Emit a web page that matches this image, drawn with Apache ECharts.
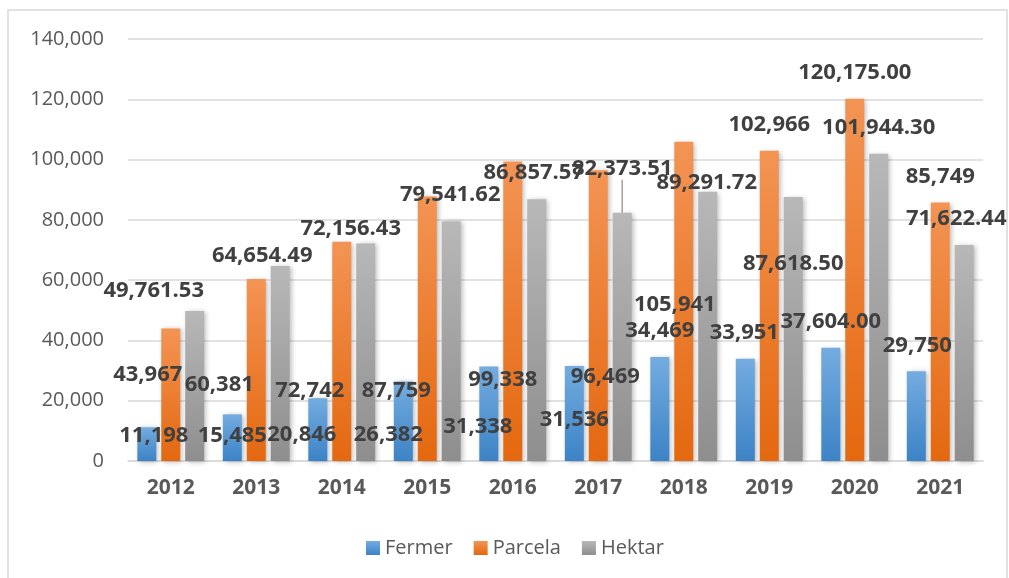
<!DOCTYPE html>
<html>
<head>
<meta charset="utf-8">
<script src="https://cdn.jsdelivr.net/npm/echarts@6/dist/echarts.min.js"></script>
<style>
  html, body { margin: 0; padding: 0; background: #ffffff; overflow: hidden; }
  #chart { width: 1009px; height: 578px; }
</style>
</head>
<body>
<div id="chart"></div>
<script>
// Years on the category axis
const years = ['2012', '2013', '2014', '2015', '2016', '2017', '2018', '2019', '2020', '2021'];

// Series values
const fermer  = [11198, 15485, 20846, 26382, 31338, 31536, 34469, 33951, 37604, 29750];
const parcela = [43967, 60381, 72742, 87759, 99338, 96469, 105941, 102966, 120175, 85749];
const hektar  = [49761.53, 64654.49, 72156.43, 79541.62, 86857.57, 82373.51, 89291.72, 87618.50, 101944.30, 71622.44];

// Decimal places shown in each value label
const fermerDecimals  = [0, 0, 0, 0, 0, 0, 0, 0, 2, 0];
const parcelaDecimals = [0, 0, 0, 0, 0, 0, 0, 0, 2, 0];
const hektarDecimals  = [2, 2, 2, 2, 2, 2, 2, 2, 2, 2];

// Y axis ticks
const yMin = 0, yMax = 140000, yStep = 20000;

// Hand-placed value labels: shift [dx, dy] in px from the top centre of each bar
const fermerShift  = [[7, 8], [0, 21], [-16, 37], [-15, 53], [-11, 60], [0, 54], [0, -26], [-1, -26], [0, -26], [1, -26]];
const parcelaShift = [[-23, 46], [-37, 106], [-32, 149], [-31, 194], [-10, 218], [7, 207], [-9, 163], [0, -26], [0, -26], [0, -26]];
const hektarShift  = [[-41, -20], [-18, -10], [-15, -15], [-1, -27], [-3, -26], [0, -44], [-1, -9], [0, 67], [0, -26], [-8, -26]];

// Label of this Hektar bar is joined to its bar by a guide line
const hektarGuideIndex = 5;

const FONT = '"Open Sans", "Liberation Sans", Arial, sans-serif';

function fmt(v, d) {
  return v.toLocaleString('en-US', { minimumFractionDigits: d, maximumFractionDigits: d });
}

function grad(top, bottom) {
  return new echarts.graphic.LinearGradient(0, 0, 0, 1, [
    { offset: 0, color: top },
    { offset: 1, color: bottom }
  ]);
}

const shifts = [fermerShift, parcelaShift, hektarShift];

function makeSeries(name, values, decimals, top, bottom, guideIndex) {
  return {
    name: name,
    type: 'bar',
    barWidth: 19,
    barGap: '26%',
    data: values.map((v, i) => i === guideIndex
      ? { value: v, labelLine: { show: true, lineStyle: { color: '#8c8c8c', width: 1.2 } } }
      : v),
    itemStyle: {
      color: grad(top, bottom),
      shadowColor: 'rgba(0,0,0,0.28)',
      shadowBlur: 5,
      shadowOffsetX: 2,
      shadowOffsetY: 1
    },
    label: {
      show: true,
      position: 'top',
      distance: 0,
      align: 'center',
      verticalAlign: 'middle',
      fontFamily: FONT,
      fontSize: 22,
      fontWeight: 'bold',
      color: '#404040',
      formatter: p => fmt(values[p.dataIndex], decimals[p.dataIndex])
    },
    labelLayout: function (p) {
      const s = shifts[p.seriesIndex][p.dataIndex];
      return { dx: s[0], dy: s[1] };
    },
    emphasis: { disabled: true }
  };
}

const chart = echarts.init(document.getElementById('chart'), null, { renderer: 'canvas' });

chart.setOption({
  animation: false,
  backgroundColor: '#ffffff',
  graphic: [{
    type: 'rect',
    shape: { x: 8, y: 10, width: 999, height: 600 },
    style: { fill: 'none', stroke: '#d9d9d9', lineWidth: 1.5 },
    silent: true,
    z: -1
  }],
  grid: { left: 128, right: 26, top: 39, bottom: 117 },
  legend: {
    data: ['Fermer', 'Parcela', 'Hektar'],
    left: 361,
    top: 533,
    icon: 'rect',
    itemWidth: 14,
    itemHeight: 14,
    itemGap: 21,
    textStyle: { fontFamily: FONT, fontSize: 20, color: '#595959' }
  },
  xAxis: {
    type: 'category',
    data: years,
    axisTick: { show: false },
    axisLine: { lineStyle: { color: '#d9d9d9', width: 1.5 } },
    axisLabel: {
      margin: 17,
      fontFamily: FONT,
      fontSize: 21,
      fontWeight: 'bold',
      color: '#595959'
    }
  },
  yAxis: {
    type: 'value',
    min: yMin,
    max: yMax,
    interval: yStep,
    axisLine: { show: false },
    axisTick: { show: false },
    splitLine: { lineStyle: { color: '#d9d9d9', width: 1.5 } },
    axisLabel: {
      margin: 24,
      fontFamily: FONT,
      fontSize: 20,
      color: '#595959',
      formatter: v => fmt(v, 0)
    }
  },
  series: [
    makeSeries('Fermer', fermer, fermerDecimals, '#74acdf', '#3c83c6', -1),
    makeSeries('Parcela', parcela, parcelaDecimals, '#f39454', '#e4680f', -1),
    makeSeries('Hektar', hektar, hektarDecimals, '#b8b8b8', '#8e8e8e', hektarGuideIndex)
  ]
});
</script>
</body>
</html>
